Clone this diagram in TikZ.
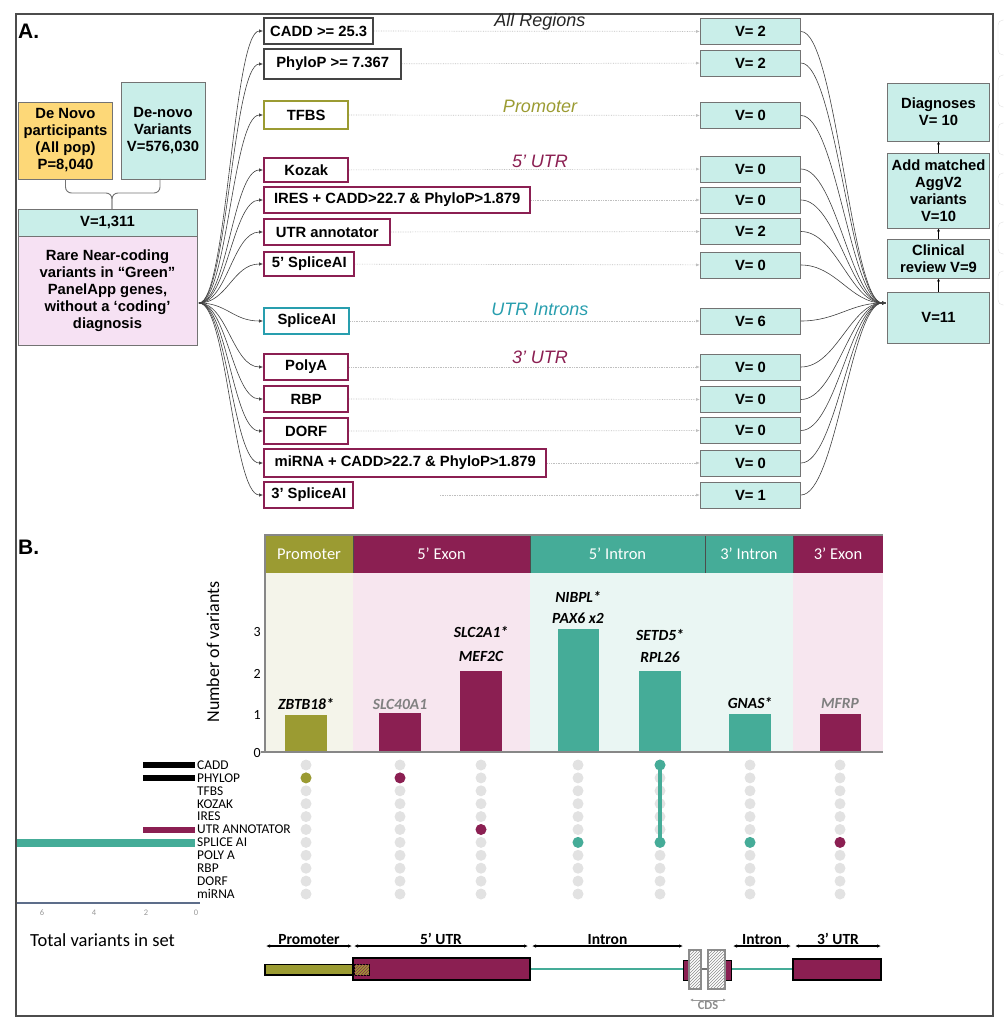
\documentclass[tikz,border=0pt]{standalone}
\usepackage{fontspec}
\setmainfont{Liberation Sans}
\newfontfamily\calib{Carlito}
\usetikzlibrary{arrows.meta,patterns}

\definecolor{magen}{RGB}{139,31,82}
\definecolor{olv}{RGB}{155,155,50}
\definecolor{tealb}{RGB}{69,172,152}
\definecolor{tealA}{RGB}{40,158,174}
\definecolor{cyanbox}{RGB}{201,238,233}
\definecolor{pinkbox}{RGB}{246,225,243}
\definecolor{yelbox}{RGB}{253,216,120}
\definecolor{bgprom}{RGB}{244,244,234}
\definecolor{bgexon}{RGB}{247,230,239}
\definecolor{bgintr}{RGB}{234,246,243}
\definecolor{dotgray}{RGB}{226,226,226}
\definecolor{axgray}{RGB}{135,135,135}
\definecolor{darkbox}{RGB}{68,68,68}
\definecolor{slate}{RGB}{93,109,138}

\begin{document}
\begin{tikzpicture}[x=1pt,y=-1pt,
  bold/.style={font=\fontsize{14.8}{17}\selectfont\bfseries},
  filt/.style={bold, draw, line width=2.4pt, fill=white, minimum height=26pt, anchor=west, inner sep=0pt},
  vbox/.style={bold, draw=black!55, line width=0.9pt, fill=cyanbox, minimum width=100pt, minimum height=26pt, inner sep=0pt},
  flow/.style={bold, draw=black!55, line width=0.9pt, fill=cyanbox, minimum width=102pt, align=center, inner sep=0pt},
  fan/.style={draw=black!75, line width=0.6pt, -{Latex[length=4pt,width=3.5pt]}},
  pass/.style={draw=black!25, densely dotted, line width=0.7pt, -{Latex[length=4pt,width=3pt]}},
  up/.style={draw=black, line width=0.6pt, -{Latex[length=3pt,width=3pt]}},
  region/.style={font=\fontsize{18}{20}\selectfont\itshape},
  hdr/.style={text=white, font=\calib\fontsize{16.5}{18}\selectfont},
  gene/.style={font=\calib\fontsize{15.5}{16}\selectfont\bfseries\itshape},
  tick/.style={font=\calib\fontsize{14}{14}\selectfont, anchor=east, inner sep=0pt},
  setname/.style={anchor=west, inner sep=0pt, font=\calib\fontsize{13.4}{13}\selectfont},
  dimlab/.style={above, inner sep=1pt, font=\calib\fontsize{15.5}{16}\selectfont\bfseries},
  dim/.style={{Latex[length=4pt,width=3.5pt]}-{Latex[length=4pt,width=3.5pt]}, line width=1.1pt},
  part/.style={font=\fontsize{21}{21}\selectfont\bfseries, anchor=west, inner sep=0pt}]
\useasboundingbox (0,0) rectangle (1003,1024);
\draw[black!70, line width=1.3pt] (16,14) rectangle (993,1016); % outer frame
\foreach \t/\b in {20/55,75/107,123/155,173/205,222/254,271/305}
  \draw[black!12, rounded corners=5pt] (998,\t) rectangle (1025,\b);

%%%%%%%%%% A %%%%%%%%%%
\node[part] (labA) at (18,31) {A.};

\node[bold, draw=black!55, fill=yelbox, minimum width=94pt, minimum height=77pt, align=center, inner sep=0pt] (dnp) at (65.5,140.5) {De Novo\\participants\\(All pop)\\P=8,040};
\node[bold, draw=black!55, fill=cyanbox, minimum width=84pt, minimum height=97pt, align=center, inner sep=0pt] (dnv) at (163,130.5) {De-novo\\Variants\\V=576,030};
\node[bold, draw=black!55, fill=cyanbox, minimum width=179pt, minimum height=27pt, inner sep=0pt] (v1311) at (107.5,222.5) {V=1,311};
\node[bold, draw=black!55, fill=pinkbox, minimum width=179pt, minimum height=109pt, align=center, inner sep=0pt] (main) at (107.5,290.5) {Rare Near-coding\\variants in “Green”\\PanelApp genes,\\without a ‘coding’\\diagnosis};
\coordinate (bt) at (112,193);
\draw[black!55, line width=0.9pt, rounded corners=6pt] (dnp.south) |- (bt) -- (112,209); % brace
\draw[black!55, line width=0.9pt, rounded corners=6pt] (160,179) |- (bt) -- (112,209);

% filters
\node[filt, draw=darkbox, minimum width=109pt] (f1) at (263,31) {CADD >= 25.3};
\node[filt, draw=darkbox, minimum width=137pt, minimum height=30pt] (f2) at (263,64) {PhyloP >= 7.367};
\node[filt, draw=olv, minimum width=84pt, minimum height=28pt] (f3) at (263,115) {TFBS};
\node[filt, draw=magen, minimum width=84pt, minimum height=24pt] (f4) at (263,170) {Kozak};
\node[filt, draw=magen, minimum width=266pt] (f5) at (263,200) {IRES + CADD>22.7 \& PhyloP>1.879};
\node[filt, draw=magen, minimum width=126pt] (f6) at (263,232) {UTR annotator};
\node[filt, draw=magen, minimum width=90pt, minimum height=24pt] (f7) at (263,264) {5’ SpliceAI};
\node[filt, draw=tealA, minimum width=85pt] (f8) at (263,321) {SpliceAI};
\node[filt, draw=magen, minimum width=84pt] (f9) at (263,367) {PolyA};
\node[filt, draw=magen, minimum width=84pt] (f10) at (263,399) {RBP};
\node[filt, draw=magen, minimum width=84pt] (f11) at (263,431) {DORF};
\node[filt, draw=magen, minimum width=282pt, minimum height=28pt] (f12) at (263,463) {miRNA + CADD>22.7 \& PhyloP>1.879};
\node[filt, draw=magen, minimum width=89pt] (f13) at (263,495) {3’ SpliceAI};

\node[region, text=black!85] (rAll) at (540,22) {All Regions};
\node[region, text=olv] (rProm) at (540,106) {Promoter};
\node[region, text=magen] (r5utr) at (540,161) {5’ UTR};
\node[region, text=tealA] (rIntr) at (540,309) {UTR Introns};
\node[region, text=magen] (r3utr) at (540,357) {3’ UTR};

% counts
\node[vbox] (v1) at (750.5,31.5) {V= 2};
\node[vbox] (v2) at (750.5,63) {V= 2};
\node[vbox] (v3) at (750.5,115.5) {V= 0};
\node[vbox] (v4) at (750.5,169) {V= 0};
\node[vbox] (v5) at (750.5,200) {V= 0};
\node[vbox] (v6) at (750.5,231.5) {V= 2};
\node[vbox] (v7) at (750.5,265) {V= 0};
\node[vbox] (v8) at (750.5,321) {V= 6};
\node[vbox] (v9) at (750.5,367) {V= 0};
\node[vbox] (v10) at (750.5,399.5) {V= 0};
\node[vbox] (v11) at (750.5,430.5) {V= 0};
\node[vbox] (v12) at (750.5,463) {V= 0};
\node[vbox] (v13) at (750.5,495) {V= 1};

\node[flow, minimum height=51pt] (vtot) at (938.5,317.5) {V=11};
\node[flow, minimum height=39pt] (clin) at (938.5,258.5) {Clinical\\review V=9};
\node[flow, minimum height=75pt] (agg) at (938.5,190.5) {Add matched\\AggV2\\variants\\V=10};
\node[flow, minimum height=58pt] (diag) at (938.5,112) {Diagnoses\\V= 10};
\draw[up] (vtot) -- (clin);
\draw[up] (clin) -- (agg);
\draw[up] (agg) -- (diag);

\coordinate (fanA) at (199,303);
\coordinate (sink) at (886,303);
\coordinate (p13) at (440,495);
\foreach \i in {1,...,13}{
  \draw[fan] (fanA) .. controls +(28,0) and +(-30,0) .. (f\i.west);
  \draw[fan] (v\i.east) .. controls +(35,0) and +(-35,0) .. (sink);
}
\foreach \i in {1,...,12}
  \draw[pass] (f\i) -- (v\i);
\draw[pass] (p13) -- (v13);

%%%%%%%%%% B %%%%%%%%%%
\node[part] (labB) at (18,547) {B.};

\fill[bgprom] (265,573) rectangle (353,752);
\fill[bgexon] (353,573) rectangle (530,752);
\fill[bgintr] (530,573) rectangle (793,752);
\fill[bgexon] (793,573) rectangle (883,752);
\fill[olv] (265,535) rectangle (353,573);
\fill[magen] (353,535) rectangle (530,573);
\fill[tealb] (530,535) rectangle (793,573);
\fill[magen] (793,535) rectangle (883,573);
\draw[black!70, line width=0.8pt] (353,535) -- (353,573) (530,535) -- (530,573) (705,535) -- (705,573) (793,535) -- (793,573);
\draw[axgray, line width=1.5pt] (883,535) -- (265,535) -- (265,752);
\node[hdr] (hProm) at (309,554) {Promoter};
\node[hdr] (h5ex) at (441.5,554) {5’ Exon};
\node[hdr] (h5in) at (617.5,554) {5’ Intron};
\node[hdr] (h3in) at (749,554) {3’ Intron};
\node[hdr] (h3ex) at (838,554) {3’ Exon};

% bars
\fill[olv] (285,752) rectangle (327,715);
\fill[magen] (379,752) rectangle (421,713);
\fill[magen] (460,752) rectangle (502,671);
\fill[tealb] (558,752) rectangle (599,629);
\fill[tealb] (639,752) rectangle (681,671);
\fill[tealb] (729,752) rectangle (771,714);
\fill[magen] (820,752) rectangle (861,714);
\draw[axgray, line width=2.5pt] (261,752) -- (883,752);

\node[tick] (t0) at (261,753) {0};
\node[tick] (t1) at (261,715) {1};
\node[tick] (t2) at (261,674) {2};
\node[tick] (t3) at (261,632) {3};
\node[rotate=90, font=\calib\fontsize{18}{18}\selectfont] (ylab) at (213,652) {Number of variants};

\node[gene] (gZ) at (306,704) {ZBTB18*};
\node[gene, text=black!50] (gSL) at (400,704) {SLC40A1};
\node[gene] (gSC) at (481,632) {SLC2A1*};
\node[gene] (gME) at (481,656) {MEF2C};
\node[gene] (gNI) at (578,597) {NIBPL*};
\node[gene] (gPA) at (578,618) {PAX6 x2};
\node[gene] (gSE) at (660,635) {SETD5*};
\node[gene] (gRP) at (660,657) {RPL26};
\node[gene] (gGN) at (750,703) {GNAS*};
\node[gene, text=black!50] (gMF) at (840,703) {MFRP};

% upset matrix
\foreach \c in {306,400,481,578,660,750,840}
  \foreach \r in {0,...,10}
    \fill[dotgray] (\c,765+12.9*\r) circle (5.5pt);
\fill[olv] (306,777.9) circle (5.5pt);
\fill[magen] (400,777.9) circle (5.5pt);
\fill[magen] (481,829.5) circle (5.5pt);
\fill[tealb] (578,842.4) circle (5.5pt);
\draw[tealb, line width=3.5pt] (660,765) -- (660,842.4);
\fill[tealb] (660,765) circle (5.5pt);
\fill[tealb] (660,842.4) circle (5.5pt);
\fill[tealb] (750,842.4) circle (5.5pt);
\fill[magen] (840,842.4) circle (5.5pt);

\foreach \s [count=\k from 0] in {CADD,PHYLOP,TFBS,KOZAK,IRES,UTR ANNOTATOR,SPLICE AI,POLY A,RBP,DORF,miRNA}
  \node[setname] (s\k) at (197,765+12.9*\k) {\s};

% set sizes
\fill[black] (143,762) rectangle (195,767.5);
\fill[black] (143,775) rectangle (195,780.5);
\fill[magen] (143,826.5) rectangle (195,832.5);
\fill[tealb] (17,838.5) rectangle (195,846.5);
\draw[slate, line width=2pt] (17,903) -- (200,903);
\foreach \v/\x in {6/42,4/94,2/146,0/196}
  \node[font=\calib\fontsize{8.5}{9}\selectfont, text=black!40] (n\v) at (\x,913) {\v};
\node[font=\calib\fontsize{18.5}{20}\selectfont, anchor=west, inner sep=0pt] (tot) at (30,940) {Total variants in set};

% gene model
\draw[dim] (266,946) -- node[dimlab] (dProm) {Promoter} (352,946);
\draw[dim] (354,946) -- node[dimlab] (d5utr) {5’ UTR} (528,946);
\draw[dim] (532,946) -- node[dimlab] (dIn1) {Intron} (683,946);
\draw[dim] (733,946) -- node[dimlab] (dIn2) {Intron} (791,946);
\draw[dim] (795,946) -- node[dimlab] (d3utr) {3’ UTR} (881,946);

\draw[tealb, line width=2pt] (530,969) -- (683,969);
\draw[tealb, line width=2pt] (731,969) -- (793,969);
\filldraw[fill=olv, draw=black, line width=1.2pt] (265,964.5) rectangle (354,975);
\filldraw[fill=magen, draw=black, line width=1.2pt] (353,958) rectangle (530,980);
\filldraw[fill=olv, draw=black, line width=1pt] (354,964.5) rectangle (369,975);
\fill[pattern=north east lines, pattern color=magen] (354,964.5) rectangle (369,975);
\filldraw[fill=magen, draw=black, line width=1pt] (683,960) rectangle (689,980);
\filldraw[fill=magen, draw=black, line width=1pt] (725,960) rectangle (731,980);
\draw[black!55, line width=1.2pt] (701,969) -- (708,969);
\filldraw[fill=white, draw=black!45, line width=1.2pt] (689,950) rectangle (701,989);
\fill[pattern=north east lines, pattern color=black!45] (689,950) rectangle (701,989);
\filldraw[fill=white, draw=black!45, line width=1.2pt] (708,950) rectangle (725,989);
\fill[pattern=north east lines, pattern color=black!45] (708,950) rectangle (725,989);
\filldraw[fill=magen, draw=black, line width=1.2pt] (793,959) rectangle (881,980);
\draw[black!40, line width=1pt, {Latex[length=3pt,width=3pt]}-{Latex[length=3pt,width=3pt]}] (690,1000) -- node[below, inner sep=1pt, text=black!45, font=\calib\fontsize{12.5}{12}\selectfont\bfseries] (cds) {CDS} (726,1000);
\end{tikzpicture}
\end{document}
